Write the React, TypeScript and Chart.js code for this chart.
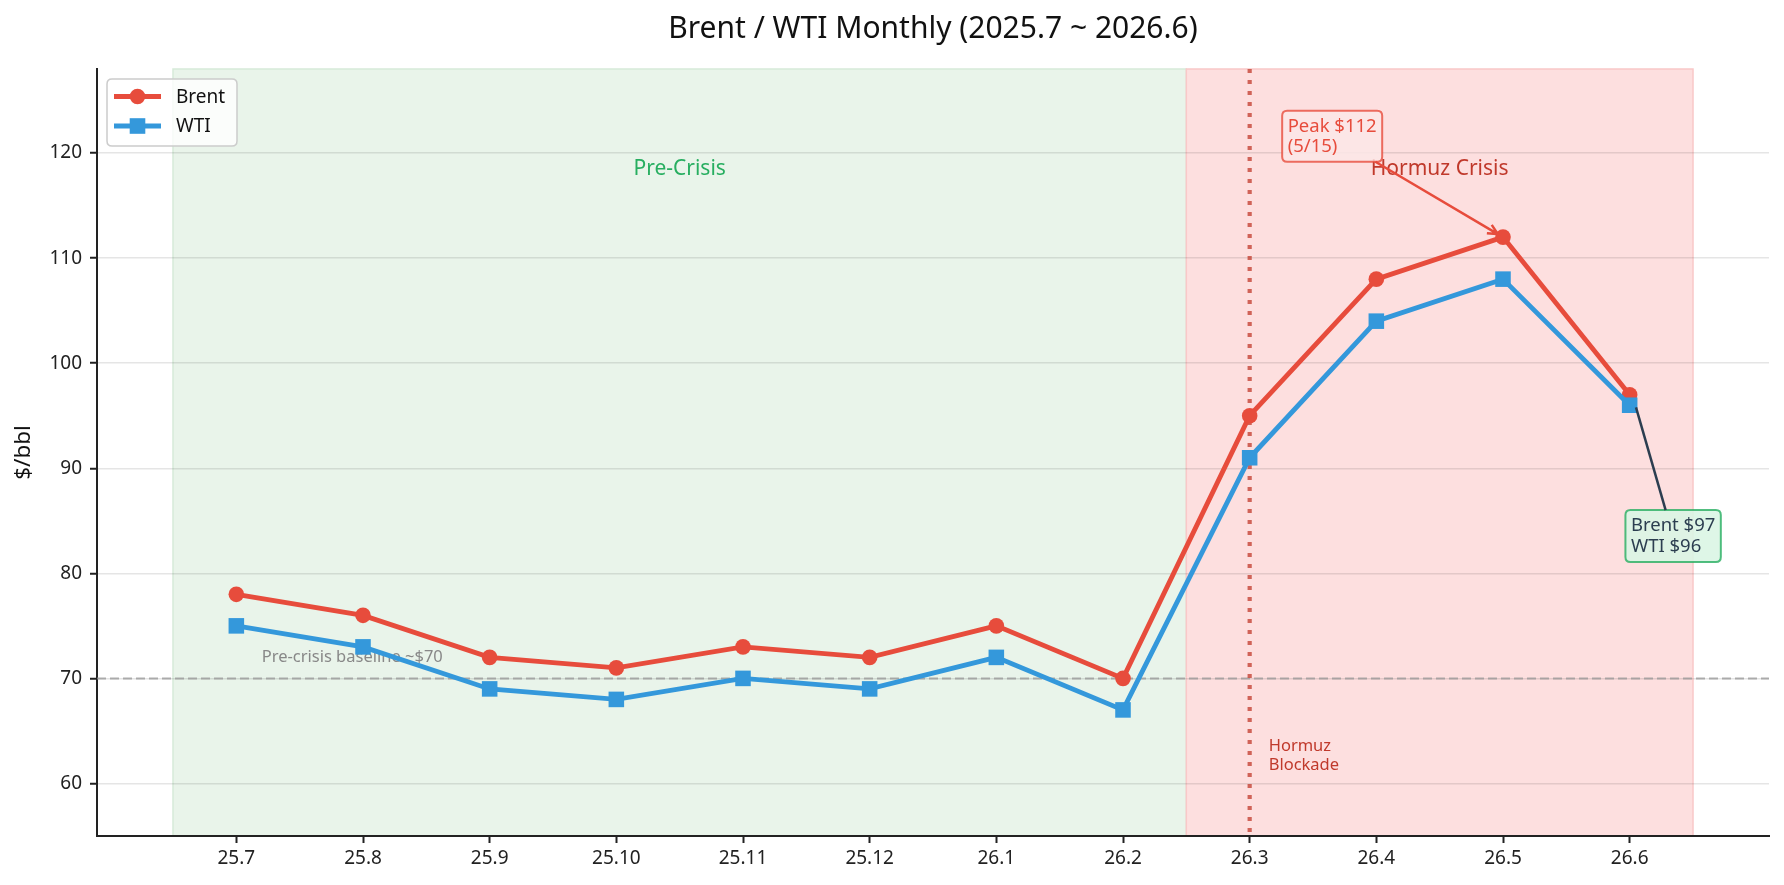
import { useEffect, useRef } from 'react';
import { Chart, registerables } from 'chart.js';

Chart.register(...registerables);

// month labels (YY.M)
const months = ['25.7', '25.8', '25.9', '25.10', '25.11', '25.12', '26.1', '26.2', '26.3', '26.4', '26.5', '26.6'];
// $/bbl, monthly
const brent = [78, 76, 72, 71, 73, 72, 75, 70, 95, 108, 112, 97];
const wti = [75, 73, 69, 68, 70, 69, 72, 67, 91, 104, 108, 96];
const yTicks = [60, 70, 80, 90, 100, 110, 120];

const preCrisis = [-0.5, 7.5];
const crisis = [7.5, 11.5];
const blockadeMonth = 8;
const baseline = 70;

const FONT = '"Noto Sans", "DejaVu Sans", sans-serif';
const RED = '#e74c3c';
const BLUE = '#3498db';
const DARK = '#2c3e50';

function roundRect(ctx: CanvasRenderingContext2D, x: number, y: number, w: number, h: number, r: number) {
  ctx.beginPath();
  ctx.moveTo(x + r, y);
  ctx.lineTo(x + w - r, y);
  ctx.quadraticCurveTo(x + w, y, x + w, y + r);
  ctx.lineTo(x + w, y + h - r);
  ctx.quadraticCurveTo(x + w, y + h, x + w - r, y + h);
  ctx.lineTo(x + r, y + h);
  ctx.quadraticCurveTo(x, y + h, x, y + h - r);
  ctx.lineTo(x, y + r);
  ctx.quadraticCurveTo(x, y, x + r, y);
  ctx.closePath();
}

// text box, returns the box rect
function textBox(ctx: CanvasRenderingContext2D, lines: string[], left: number, top: number, size: number, lineH: number, color: string, fill: string, edge: string) {
  const pad = 5.5;
  ctx.font = `${size}px ${FONT}`;
  const w = Math.max(...lines.map(l => ctx.measureText(l).width));
  const box = { x: left - pad, y: top - pad, w: w + pad * 2, h: lines.length * lineH + pad * 2 };
  roundRect(ctx, box.x, box.y, box.w, box.h, 5);
  ctx.fillStyle = fill;
  ctx.fill();
  ctx.strokeStyle = edge;
  ctx.lineWidth = 2;
  ctx.stroke();
  ctx.fillStyle = color;
  ctx.textAlign = 'left';
  ctx.textBaseline = 'middle';
  lines.forEach((l, i) => ctx.fillText(l, left, top + lineH * (i + 0.5)));
  return box;
}

function edgePoint(box: { x: number; y: number; w: number; h: number }, tx: number, ty: number) {
  const cx = box.x + box.w / 2;
  const cy = box.y + box.h / 2;
  const dx = tx - cx;
  const dy = ty - cy;
  const t = Math.min(dx ? Math.abs(box.w / 2 / dx) : Infinity, dy ? Math.abs(box.h / 2 / dy) : Infinity);
  return [cx + dx * t, cy + dy * t];
}

const overlay = {
  id: 'overlay',
  beforeDraw(chart: any) {
    const { ctx, chartArea: a, scales: { x } } = chart;
    ctx.save();
    const spans = [
      { r: preCrisis, fill: 'rgb(233,244,234)', edge: 'rgb(214,234,217)' },
      { r: crisis, fill: 'rgb(253,223,223)', edge: 'rgb(249,200,200)' },
    ];
    spans.forEach(s => {
      const x0 = x.getPixelForValue(s.r[0]);
      const x1 = x.getPixelForValue(s.r[1]);
      ctx.fillStyle = s.fill;
      ctx.fillRect(x0, a.top, x1 - x0, a.bottom - a.top);
      ctx.strokeStyle = s.edge;
      ctx.lineWidth = 1.5;
      ctx.strokeRect(x0, a.top, x1 - x0, a.bottom - a.top);
    });
    ctx.restore();
  },
  beforeDatasetsDraw(chart: any) {
    const { ctx, chartArea: a, scales: { x, y } } = chart;
    ctx.save();
    // baseline
    const by = y.getPixelForValue(baseline);
    ctx.strokeStyle = 'rgba(150,150,150,0.75)';
    ctx.lineWidth = 2;
    ctx.setLineDash([9, 4]);
    ctx.beginPath();
    ctx.moveTo(a.left, by);
    ctx.lineTo(a.right, by);
    ctx.stroke();
    // blockade
    const vx = x.getPixelForValue(blockadeMonth);
    ctx.strokeStyle = 'rgba(192,57,43,0.75)';
    ctx.lineWidth = 4.2;
    ctx.setLineDash([4, 7]);
    ctx.beginPath();
    ctx.moveTo(vx, a.top);
    ctx.lineTo(vx, a.bottom);
    ctx.stroke();
    ctx.setLineDash([]);

    ctx.textBaseline = 'middle';
    ctx.textAlign = 'center';
    ctx.font = `21px ${FONT}`;
    ctx.fillStyle = '#27ae60';
    ctx.fillText('Pre-Crisis', x.getPixelForValue(3.5), y.getPixelForValue(118.5));
    ctx.fillStyle = '#c0392b';
    ctx.fillText('Hormuz Crisis', x.getPixelForValue(9.5), y.getPixelForValue(118.5));

    ctx.textAlign = 'left';
    ctx.font = `16.5px ${FONT}`;
    ctx.fillStyle = '#888888';
    ctx.fillText('Pre-crisis baseline ~$70', x.getPixelForValue(0.2), y.getPixelForValue(72));
    ctx.fillStyle = '#c0392b';
    const hy = y.getPixelForValue(62.6);
    ctx.fillText('Hormuz', x.getPixelForValue(8.15), hy - 9.5);
    ctx.fillText('Blockade', x.getPixelForValue(8.15), hy + 9.5);
    ctx.restore();
  },
  afterDatasetsDraw(chart: any) {
    const { ctx, scales: { x, y } } = chart;
    ctx.save();
    // peak
    const pbox = textBox(ctx, ['Peak $112', '(5/15)'], x.getPixelForValue(8.3), y.getPixelForValue(123.5), 18.5, 20,
      RED, 'rgba(252,232,231,0.85)', 'rgba(231,76,60,0.8)');
    const px = x.getPixelForValue(10);
    const py = y.getPixelForValue(112);
    const [sx, sy] = edgePoint(pbox, px, py);
    const ang = Math.atan2(py - sy, px - sx);
    const ex = px - Math.cos(ang) * 6;
    const ey = py - Math.sin(ang) * 6;
    ctx.strokeStyle = RED;
    ctx.lineWidth = 2.5;
    ctx.beginPath();
    ctx.moveTo(sx, sy);
    ctx.lineTo(ex, ey);
    ctx.moveTo(ex - Math.cos(ang - 0.45) * 11, ey - Math.sin(ang - 0.45) * 11);
    ctx.lineTo(ex, ey);
    ctx.lineTo(ex - Math.cos(ang + 0.45) * 11, ey - Math.sin(ang + 0.45) * 11);
    ctx.stroke();

    // last month
    const lbox = textBox(ctx, ['Brent $97', 'WTI $96'], x.getPixelForValue(11.01), y.getPixelForValue(85.5), 18.5, 20.5,
      DARK, 'rgba(218,245,228,0.9)', 'rgba(39,174,96,0.8)');
    const tx = x.getPixelForValue(11.05);
    const ty = y.getPixelForValue(95.8);
    const [lx, ly] = edgePoint(lbox, tx, ty);
    ctx.strokeStyle = DARK;
    ctx.lineWidth = 2.5;
    ctx.beginPath();
    ctx.moveTo(lx, ly);
    ctx.lineTo(tx, ty);
    ctx.stroke();
    ctx.restore();
  },
  afterDraw(chart: any) {
    const { ctx, chartArea: a } = chart;
    ctx.save();
    ctx.fillStyle = '#111';
    ctx.textAlign = 'center';
    ctx.textBaseline = 'middle';
    ctx.font = `30px ${FONT}`;
    ctx.fillText('Brent / WTI Monthly (2025.7 ~ 2026.6)', (a.left + a.right) / 2, 29);

    ctx.save();
    ctx.translate(24, (a.top + a.bottom) / 2);
    ctx.rotate(-Math.PI / 2);
    ctx.font = `22.5px ${FONT}`;
    ctx.fillText('$/bbl', 0, 0);
    ctx.restore();

    // legend
    const lx = a.left + 10;
    const ly = a.top + 10;
    roundRect(ctx, lx, ly, 130, 67, 5);
    ctx.fillStyle = 'rgba(255,255,255,0.8)';
    ctx.fill();
    ctx.strokeStyle = '#cccccc';
    ctx.lineWidth = 1.5;
    ctx.stroke();
    const items = [
      { label: 'Brent', color: RED, square: false },
      { label: 'WTI', color: BLUE, square: true },
    ];
    items.forEach((it, i) => {
      const cy = ly + 17.5 + i * 29.5;
      ctx.strokeStyle = it.color;
      ctx.lineWidth = 4.8;
      ctx.beginPath();
      ctx.moveTo(lx + 7, cy);
      ctx.lineTo(lx + 54, cy);
      ctx.stroke();
      ctx.fillStyle = it.color;
      if (it.square) {
        ctx.fillRect(lx + 30.5 - 7.8, cy - 7.8, 15.6, 15.6);
      } else {
        ctx.beginPath();
        ctx.arc(lx + 30.5, cy, 7.8, 0, Math.PI * 2);
        ctx.fill();
      }
      ctx.fillStyle = '#111';
      ctx.textAlign = 'left';
      ctx.font = `19px ${FONT}`;
      ctx.fillText(it.label, lx + 69, cy + 1);
    });
    ctx.restore();
  },
};

export default function App() {
  const canvasRef = useRef<HTMLCanvasElement>(null);
  const chartRef = useRef<Chart | null>(null);

  useEffect(() => {
    if (!canvasRef.current) return;
    if (chartRef.current) chartRef.current.destroy();

    const tickFont = { family: FONT, size: 19 };

    chartRef.current = new Chart(canvasRef.current, {
      type: 'line',
      data: {
        datasets: [
          {
            label: 'Brent',
            data: brent.map((v, i) => ({ x: i, y: v })),
            borderColor: RED,
            backgroundColor: RED,
            borderWidth: 4.8,
            pointStyle: 'circle',
            pointRadius: 7.8,
            pointBorderWidth: 0,
            pointBackgroundColor: RED,
            tension: 0,
            order: 1,
          },
          {
            label: 'WTI',
            data: wti.map((v, i) => ({ x: i, y: v })),
            borderColor: BLUE,
            backgroundColor: BLUE,
            borderWidth: 4.8,
            pointStyle: 'rect',
            pointRadius: 11,
            pointBorderWidth: 0,
            pointBackgroundColor: BLUE,
            tension: 0,
            order: 0,
          },
        ],
      },
      options: {
        responsive: false,
        devicePixelRatio: 1,
        animation: false,
        layout: { padding: { left: 0, top: 69, right: 15, bottom: 0 } },
        plugins: {
          legend: { display: false },
          title: { display: false },
          tooltip: { enabled: false },
        },
        scales: {
          x: {
            type: 'linear',
            min: -1.1,
            max: 12.1,
            afterBuildTicks: (scale: any) => {
              scale.ticks = months.map((_, i) => ({ value: i }));
            },
            afterFit: (scale: any) => {
              scale.height = 49;
            },
            ticks: {
              autoSkip: false,
              maxRotation: 0,
              minRotation: 0,
              padding: 4,
              color: '#222',
              font: tickFont,
              callback: (v: any) => months[v] ?? '',
            },
            grid: {
              display: true,
              drawOnChartArea: false,
              drawTicks: true,
              tickLength: 7,
              tickColor: '#222',
              tickWidth: 2,
            },
            border: { display: true, color: '#222', width: 2 },
          },
          y: {
            type: 'linear',
            min: 55,
            max: 128,
            afterBuildTicks: (scale: any) => {
              scale.ticks = yTicks.map(v => ({ value: v }));
            },
            afterFit: (scale: any) => {
              scale.width = 97;
            },
            ticks: {
              padding: 8,
              color: '#222',
              font: tickFont,
            },
            grid: {
              color: 'rgba(0,0,0,0.1)',
              lineWidth: 1.5,
              drawTicks: true,
              tickLength: 7,
              tickColor: '#222',
              tickWidth: 2,
            },
            border: { display: true, color: '#222', width: 2 },
          },
        },
      },
      plugins: [overlay],
    });

    return () => {
      if (chartRef.current) {
        chartRef.current.destroy();
        chartRef.current = null;
      }
    };
  }, []);

  return (
    <div style={{ position: 'fixed', left: 0, top: 0, width: 1784, height: 885, background: '#fff' }}>
      <canvas ref={canvasRef} width={1784} height={885} style={{ width: 1784, height: 885, display: 'block' }} />
    </div>
  );
}
